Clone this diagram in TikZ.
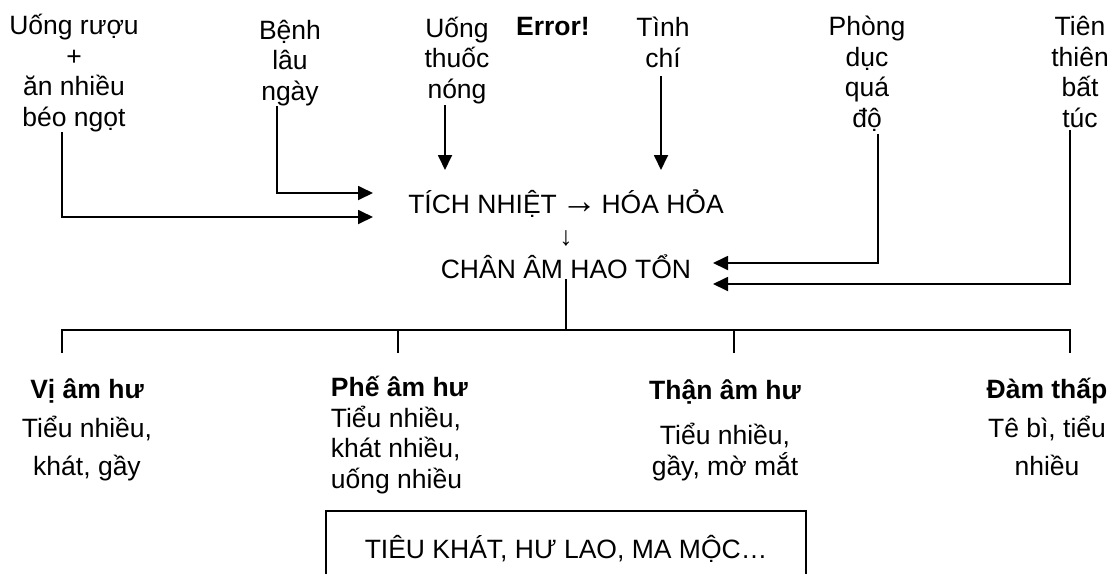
\documentclass[tikz,border=0pt]{standalone}
\usepackage{fontspec}
\setmainfont{Liberation Sans}
\usetikzlibrary{arrows.meta}

\tikzset{
  txt/.style={inner sep=0pt, align=center, anchor=base},
  arr/.style={-{Triangle[length=15pt,width=14pt]}},
}

\begin{document}
\begin{tikzpicture}[x=1pt,y=-1pt,line width=1.8pt,
    every node/.style={font=\fontsize{26.5}{30.5}\selectfont}]
	\useasboundingbox (0,0) rectangle (1110,574);
	% causes (placed at the baseline of their last line)
		\node[txt] (ruou) at (74,126) {Uống rượu\\+\\ăn nhiều\\béo ngọt};
		\node[txt] (benh) at (290,100) {Bệnh\\lâu\\ngày};
		\node[txt] (thuoc) at (457,98) {Uống\\thuốc\\nóng};
		\node[txt] (error) at (553,35) {\bfseries Error!};
		\node[txt] (tinhchi) at (663,67) {Tình\\chí};
		\node[txt] (phong) at (867,127) {Phòng\\dục\\quá\\độ};
		\node[txt] (tienthien) at (1080,127) {Tiên\\thiên\\bất\\túc};
	% middle
		\node[txt] (tich) at (566,213) {TÍCH NHIỆT\,\scalebox{1.35}[1.4]{→}\,HÓA HỎA};
		\node[txt] (xuong) at (566,245) {↓};
		\node[txt] (chan) at (566,278) {CHÂN ÂM HAO TỔN};
	% branches
		\node[txt] (vi) at (87,475) {\textbf{Vị âm hư}\\[9pt]Tiểu nhiều,\\[7pt]khát, gầy};
		\node[txt, align=left, anchor=base west] (phe) at (330,488) {\textbf{Phế âm hư}\\Tiểu nhiều,\\khát nhiều,\\uống nhiều};
		\node[txt] (than) at (725,475) {\textbf{Thận âm hư}\\[15pt]Tiểu nhiều,\\gầy, mờ mắt};
		\node[txt] (dam) at (1047,475) {\textbf{Đàm thấp}\\[9pt]Tê bì, tiểu\\[7pt]nhiều};
		\node[txt] (tieukhat) at (566,558) {TIÊU KHÁT, HƯ LAO, MA MỘC…};
	% free ends
		\coordinate (inA) at (373,193);
		\coordinate (inB) at (373,217);
		\coordinate (inC) at (713,263);
		\coordinate (inD) at (713,284);
		\coordinate (bus) at (566,330);
		\coordinate (ta) at (62,353);
		\coordinate (tb) at (398,353);
		\coordinate (tc) at (734,353);
		\coordinate (td) at (1070,353);
	% arrows in
		\draw[arr] ([xshift=-12pt]ruou.south) |- (inB);
		\draw[arr] ([xshift=-13pt]benh.south) |- (inA);
		\draw[arr] ([xshift=-12pt,yshift=-1pt]thuoc.south) -- (445,170);
		\draw[arr] ([xshift=-2pt,yshift=-8pt]tinhchi.south) -- (661,170);
		\draw[arr] ([xshift=11pt,yshift=-2pt]phong.south) |- (inC);
		\draw[arr] ([xshift=-10pt,yshift=-2pt]tienthien.south) |- (inD);
	% tree
		\draw (chan.south) -- (bus);
		\draw (ta) |- (bus) -| (td);
		\draw (tb) -- (tb |- bus);
		\draw (tc) -- (tc |- bus);
	% box
		\draw (326,574) |- (806,511) -- (806,574);
\end{tikzpicture}
\end{document}
